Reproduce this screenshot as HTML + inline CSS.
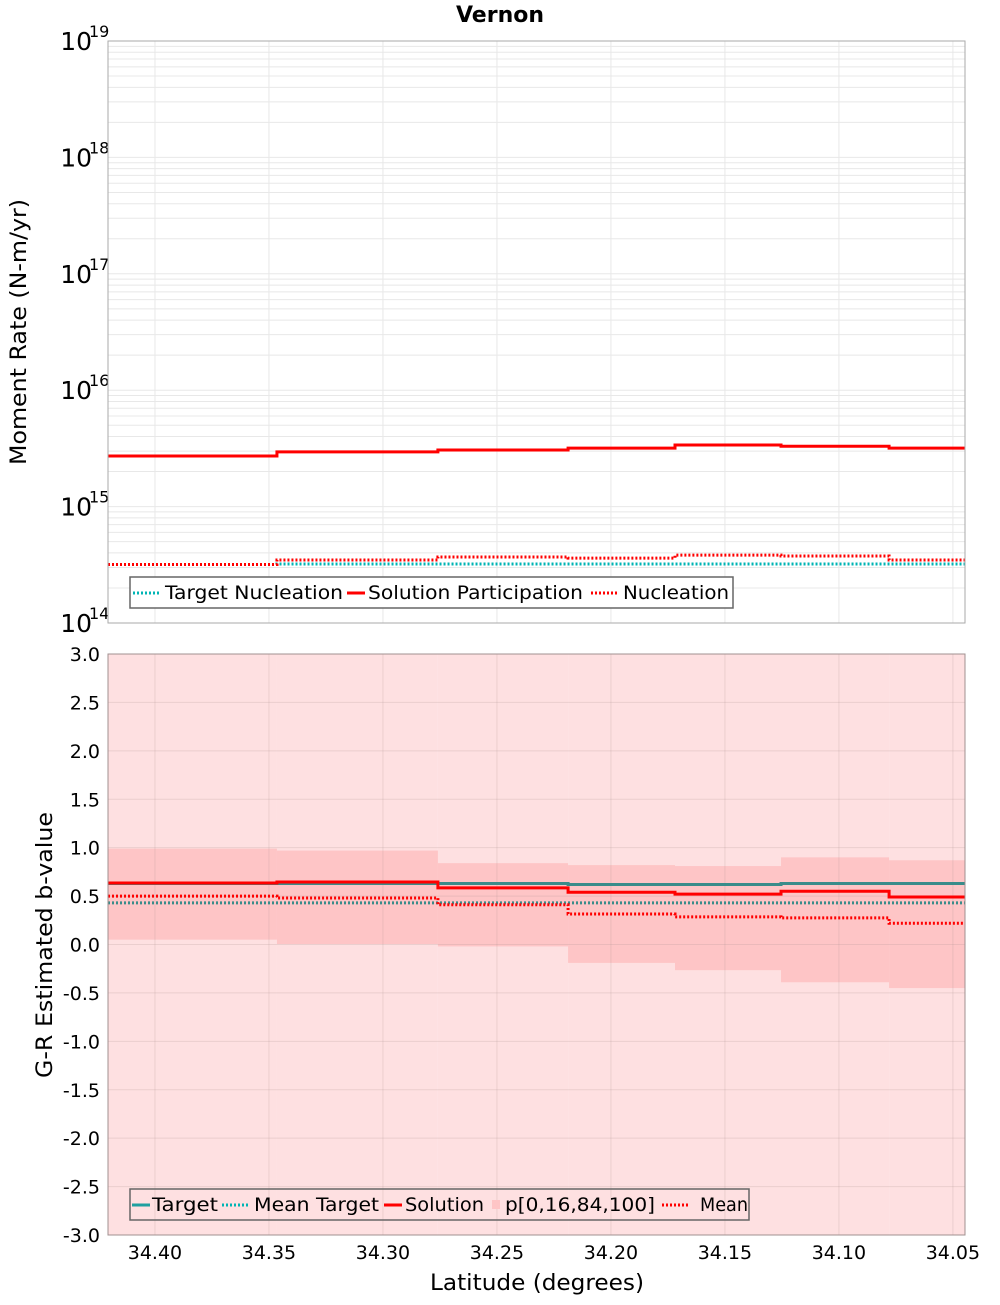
<!DOCTYPE html>
<html><head><meta charset="utf-8"><style>
body{margin:0;background:#fff;}
svg text{font-family:"DejaVu Sans","Liberation Sans",sans-serif;}
</style></head><body>
<svg id="chart" width="1000" height="1300" xmlns="http://www.w3.org/2000/svg"></svg>
<script>
const binEdges=[34.4206,34.3465,34.2759,34.2188,34.1719,34.1254,34.078,34.0447];
const xTicks=[34.40,34.35,34.30,34.25,34.20,34.15,34.10,34.05];
const solutionParticipation=[2.72e15,2.95e15,3.06e15,3.18e15,3.38e15,3.30e15,3.18e15];
const targetNucleation=[3.18e14,3.21e14,3.21e14,3.21e14,3.21e14,3.21e14,3.21e14];
const nucleation=[3.18e14,3.48e14,3.69e14,3.61e14,3.83e14,3.76e14,3.48e14];
const topTicks=[14,15,16,17,18,19];
const bTarget=[0.63,0.63,0.63,0.62,0.62,0.63,0.63];
const bMeanTarget=[0.43,0.43,0.43,0.43,0.43,0.43,0.43];
const bSolution=[0.635,0.645,0.585,0.54,0.52,0.55,0.49];
const bMean=[0.50,0.48,0.41,0.315,0.285,0.275,0.22];
const bP16=[0.05,0.005,-0.02,-0.19,-0.265,-0.39,-0.45];
const bP84=[0.99,0.97,0.84,0.82,0.81,0.90,0.87];
const bP0=[-3.5,-3.5,-3.5,-3.5,-3.5,-3.5,-3.5];
const bP100=[3.5,3.5,3.5,3.5,3.5,3.5,3.5];
const bTicks=[-3.0,-2.5,-2.0,-1.5,-1.0,-0.5,0.0,0.5,1.0,1.5,2.0,2.5,3.0];

const NS='http://www.w3.org/2000/svg';
const svg=document.getElementById('chart');
const L=108,R=965,T1=41,B1=623,T2=654,B2=1235;
const XMAX=34.4206,XMIN=34.0447;
const X=v=>L+(XMAX-v)/(XMAX-XMIN)*(R-L);
const Y1=v=>B1-(Math.log10(v)-14)/5*(B1-T1);
const Y2=v=>B2-(v+3)/6*(B2-T2);
function el(tag,attrs,parent){const e=document.createElementNS(NS,tag);for(const k in attrs)e.setAttribute(k,attrs[k]);(parent||svg).appendChild(e);return e;}
function step(vals,Y){let d='';vals.forEach((v,i)=>{const x0=X(binEdges[i]),x1=X(binEdges[i+1]),y=Y(v);d+=(i?'L':'M')+x0+','+y+'L'+x1+','+y;});return d;}

const t=el('text',{x:500,y:22,'text-anchor':'middle','font-size':22,'font-weight':'bold'});


t.textContent='Vernon';

// ---- Top panel
const g1=el('g',{});


el('rect',{x:L,y:T1,width:R-L,height:B1-T1,fill:'#fff'},g1);
for(let d=14;d<19;d++)for(let m=1;m<10;m++){const y=Y1(m*Math.pow(10,d));el('line',{x1:L,x2:R,y1:y,y2:y,stroke:'#e8e8e8','stroke-width':1},g1);}
xTicks.forEach(v=>{el('line',{x1:X(v),x2:X(v),y1:T1,y2:B1,stroke:'#e8e8e8'},g1);});
topTicks.forEach(p=>{const y=Y1(Math.pow(10,p));
 const tx=el('text',{x:92,y:y+9,'text-anchor':'end','font-size':25},g1);
 
 
 tx.textContent='10';
 const sp=el('text',{x:89,y:y-4,'font-size':16},g1);sp.textContent=String(p);});
const tn=el('path',{d:step(targetNucleation,Y1),fill:'none',stroke:'#00b4b4','stroke-width':3,'stroke-dasharray':'2,2'},g1);


const sp1=el('path',{d:step(solutionParticipation,Y1),fill:'none',stroke:'#ff0000','stroke-width':3},g1);


const nu=el('path',{d:step(nucleation,Y1),fill:'none',stroke:'#ff0000','stroke-width':3,'stroke-dasharray':'2,2'},g1);


el('rect',{x:L,y:T1,width:R-L,height:B1-T1,fill:'none',stroke:'#aaa'},g1);
const yt1=el('text',{x:26,y:332,'text-anchor':'middle','font-size':22,textLength:266,lengthAdjust:'spacingAndGlyphs',transform:'rotate(-90 26 332)'});


yt1.textContent='Moment Rate (N-m/yr)';
const lg1=el('g',{});


el('rect',{x:130,y:577,width:603,height:31,fill:'#fff',stroke:'#666','stroke-width':1.5},lg1);
[['Target Nucleation','#00b4b4','2,2',133,161,165,178],['Solution Participation','#ff0000','',347,365,368,215],['Nucleation','#ff0000','2,2',591,619,623,106]].forEach(([lab,c,da,x0,x1,tx,tw])=>{
 const ge=el('g',{},lg1);
 
 
 el('line',{x1:x0,x2:x1,y1:593,y2:593,stroke:c,'stroke-width':3,'stroke-dasharray':da||'none'},ge);
 const tt=el('text',{x:tx,y:599,'font-size':19,textLength:tw,lengthAdjust:'spacingAndGlyphs'},ge);tt.textContent=lab;});

// ---- Bottom panel
const g2=el('g',{});


const cp=el('clipPath',{id:'cp2'},g2);el('rect',{x:L,y:T2,width:R-L,height:B2-T2},cp);
el('rect',{x:L,y:T2,width:R-L,height:B2-T2,fill:'#fff'},g2);
const cg=el('g',{'clip-path':'url(#cp2)'},g2);
binEdges.slice(0,-1).forEach((e,i)=>{
 const x0=X(e),x1=X(binEdges[i+1]);
 const r0=el('rect',{x:x0,y:Y2(bP100[i]),width:x1-x0,height:Y2(bP0[i])-Y2(bP100[i]),fill:'#fee0e1'},cg);
 
 
});
binEdges.slice(0,-1).forEach((e,i)=>{
 const x0=X(e),x1=X(binEdges[i+1]);
 const r=el('rect',{x:x0,y:Y2(bP84[i]),width:x1-x0,height:Y2(bP16[i])-Y2(bP84[i]),fill:'#fec5c6'},cg);
 
 
});
bTicks.forEach(v=>{const y=Y2(v);el('line',{x1:L,x2:R,y1:y,y2:y,stroke:'rgba(180,150,150,0.25)'},cg);
 const tx=el('text',{x:100,y:y+7,'text-anchor':'end','font-size':19},g2);
 
 
 tx.textContent=v.toFixed(1);});
xTicks.forEach(v=>{el('line',{x1:X(v),x2:X(v),y1:T2,y2:B2,stroke:'rgba(180,150,150,0.25)'},cg);
 const tx=el('text',{x:X(v),y:1259,'text-anchor':'middle','font-size':19});
 
 
 tx.textContent=v.toFixed(2);});
const bt=el('path',{d:step(bTarget,Y2),fill:'none',stroke:'#3a8c8a','stroke-width':3},cg);


const bmt=el('path',{d:step(bMeanTarget,Y2),fill:'none',stroke:'#3a8c8a','stroke-width':3,'stroke-dasharray':'2,2'},cg);


const bs=el('path',{d:step(bSolution,Y2),fill:'none',stroke:'#ff0000','stroke-width':3},cg);


const bm=el('path',{d:step(bMean,Y2),fill:'none',stroke:'#ff0000','stroke-width':3,'stroke-dasharray':'2,2'},cg);


el('rect',{x:L,y:T2,width:R-L,height:B2-T2,fill:'none',stroke:'#a09090'},g2);
const yt2=el('text',{x:52,y:945,'text-anchor':'middle','font-size':22,textLength:266,lengthAdjust:'spacingAndGlyphs',transform:'rotate(-90 52 945)'});


yt2.textContent='G-R Estimated b-value';
const xt=el('text',{x:537,y:1290,'text-anchor':'middle','font-size':22,textLength:214,lengthAdjust:'spacingAndGlyphs'});


xt.textContent='Latitude (degrees)';
const lg2=el('g',{});


el('rect',{x:130,y:1189,width:619,height:31,fill:'none',stroke:'#666','stroke-width':1.5},lg2);
[['Target','#20a0a0','','line',132,150,152,66],['Mean Target','#00b4b4','2,2','line',222,250,254,125],['Solution','#ff0000','','line',384,402,405,79],['p[0,16,84,100]','#fec5c6','','box',492,500,505,150],['Mean','#ff0000','2,2','line',662,690,700,48]].forEach(([lab,c,da,kind,x0,x1,tx,tw])=>{
 const ge=el('g',{},lg2);
 
 
 if(kind==='box'){el('rect',{x:x0,y:1200,width:x1-x0,height:9,fill:c},ge);}
 else{el('line',{x1:x0,x2:x1,y1:1205,y2:1205,stroke:c,'stroke-width':3,'stroke-dasharray':da||'none'},ge);}
 const tt=el('text',{x:tx,y:1211,'font-size':19,textLength:tw,lengthAdjust:'spacingAndGlyphs'},ge);tt.textContent=lab;});
</script>
</body></html>
